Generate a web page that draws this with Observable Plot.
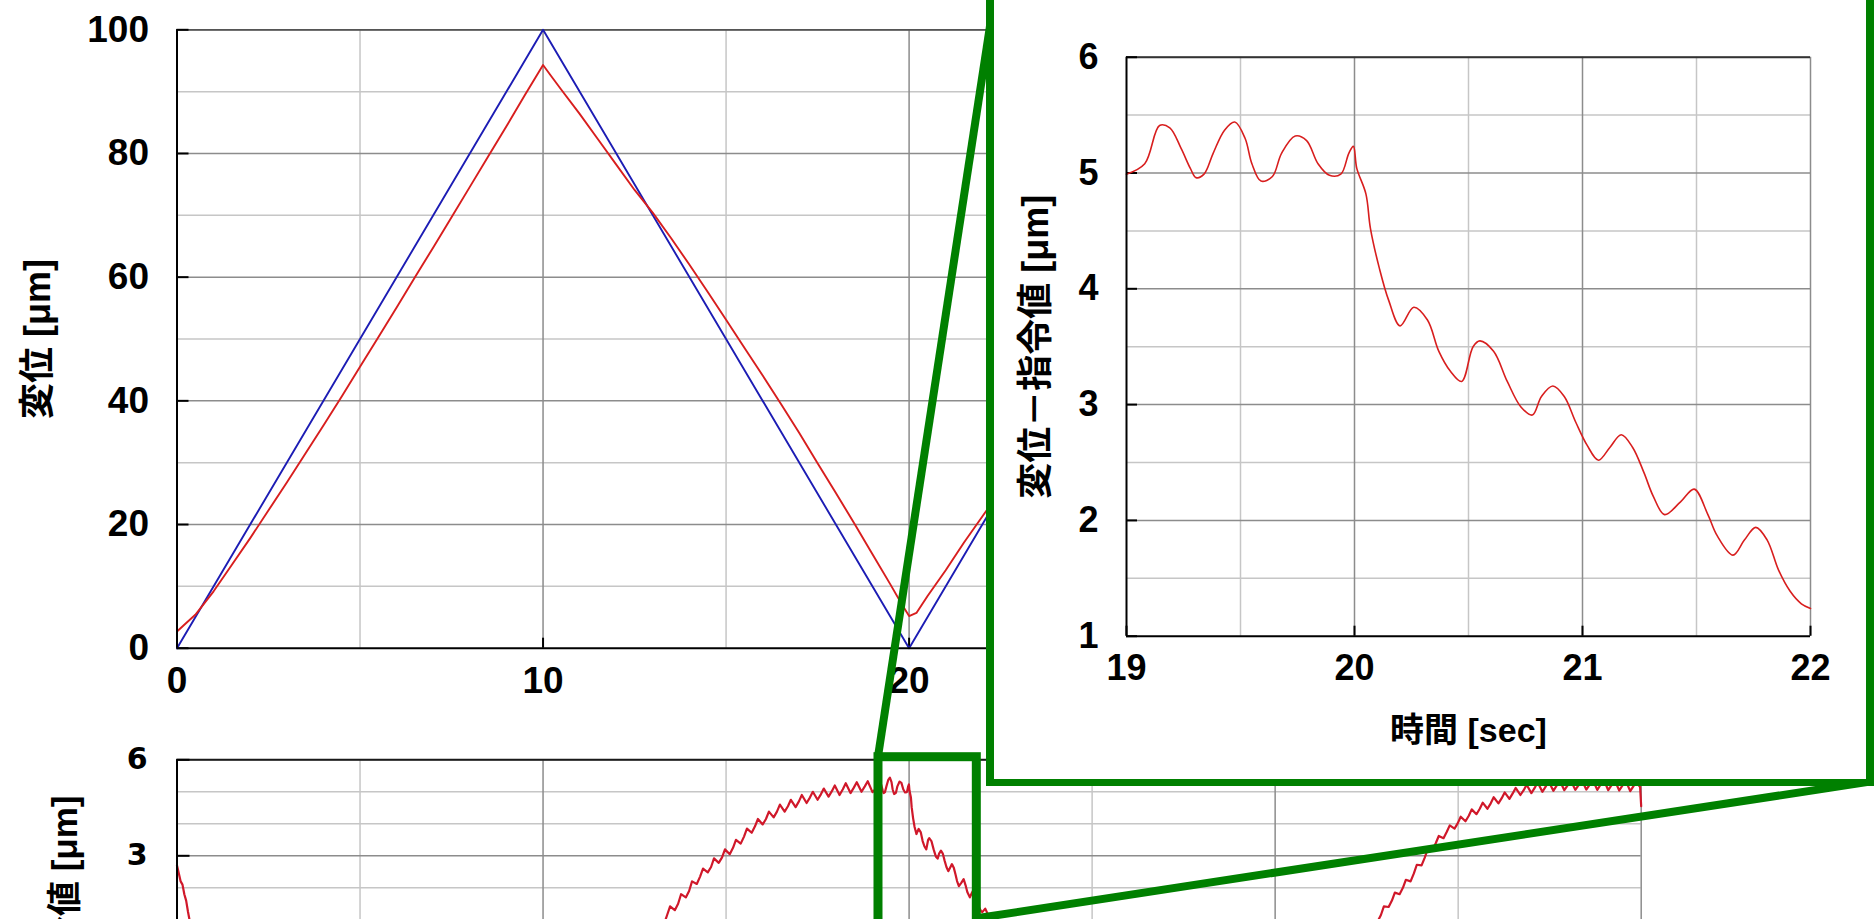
<!DOCTYPE html>
<html><head><meta charset="utf-8">
<script src="https://cdn.jsdelivr.net/npm/d3@7"></script>
<script src="https://cdn.jsdelivr.net/npm/@observablehq/plot@0.6"></script>
<style>
html,body{margin:0;padding:0;background:#fff;}
#wrap{position:relative;width:1874px;height:919px;overflow:hidden;background:#fff;}
</style></head>
<body><div id="wrap"></div>
<script>
// ---------------- data ----------------
// command (blue)
const cmdT = [0, 10, 20, 30, 40];
const cmdV = [0, 100, 0, 100, 0];
// measured displacement (red), top chart
const redT = [0,0.2,0.5,1,1.5,2,2.5,3,3.5,4,4.5,5,5.5,6,6.5,7,7.5,8,8.5,9,9.5,10,10.2,10.5,11,11.5,12,12.5,13,13.5,14,14.5,15,15.5,16,16.5,17,17.5,18,18.5,19,19.5,19.8,20,20.2,20.5,21,21.5,22,23,24,25,26,27,28,29,30,31,32,33,34,35,36,37,38,39,40];
const redV = [2.7,3.8,5.4,9.2,13.5,17.8,22.3,26.8,31.4,36.0,40.7,45.5,50.3,55.1,60.0,64.8,69.7,74.6,79.5,84.4,89.4,94.3,92.7,90.3,86.4,82.3,78.2,74.1,70.4,66.3,62.0,57.6,53.1,48.6,44.1,39.5,34.8,29.9,25.1,20.2,15.2,10.2,7.1,5.2,5.7,8.4,12.6,17.1,21.3,29.6,38.2,47.1,56.3,65.7,75.2,84.8,94.4,86.5,78.5,71.5,62.7,54.1,44.7,35.1,25.2,15.2,5.1];
// displacement - command (bottom chart and inset)
const diffT = [
  0,0.05,0.1,0.15,0.2,0.25,0.3,0.35,0.45,
  1,2,3,4,5,6,7,8,9,10,10.5,11,11.5,12,12.5,
  13.00,13.09,13.17, 13.30,13.39,13.47, 13.60,13.69,13.77, 13.90,13.99,14.07,
  14.20,14.29,14.37, 14.50,14.59,14.67, 14.80,14.89,14.97, 15.10,15.19,15.27,
  15.40,15.49,15.57, 15.70,15.79,15.87, 16.00,16.09,16.17, 16.30,16.39,16.47,
  16.60,16.69,16.77, 16.90,16.99,17.07, 17.20,17.29,17.37, 17.50,17.59,17.67,
  17.80,17.89,17.97, 18.10,18.19,18.27, 18.40,18.49,18.57, 18.70,18.79,18.87,
  19.0,19.08,19.145,19.19,19.24,19.28,19.305,19.34,19.38,19.43,19.475,19.52,19.55,19.59,19.64,19.68,19.74,19.79,19.84,19.89,19.94,19.975,19.995,
  20.01,20.05,20.07,20.11,20.15,20.2,20.26,20.32,20.37,20.42,20.47,20.52,20.55,20.61,20.67,20.73,20.78,20.82,20.87,20.92,20.97,
  21.02,21.07,21.12,21.17,21.22,21.27,21.31,21.36,21.43,21.49,21.55,21.59,21.66,21.71,21.76,21.81,21.86,21.91,21.96,22.0,
  22.08,22.16,22.25,22.35,22.45,23,24,25,26,27,28,29,30,30.5,31,31.5,32,32.3,
  32.5,32.59,32.67, 32.8,32.89,32.97, 33.1,33.19,33.27, 33.4,33.49,33.57,
  33.7,33.79,33.87, 34.0,34.09,34.17, 34.3,34.39,34.47, 34.6,34.69,34.77,
  34.9,34.99,35.07, 35.2,35.29,35.37, 35.5,35.59,35.67, 35.8,35.89,35.97,
  36.1,36.19,36.27, 36.4,36.49,36.57, 36.7,36.79,36.87, 37.0,37.09,37.17,
  37.3,37.39,37.47, 37.6,37.69,37.77, 37.9,37.99,38.07, 38.2,38.29,38.37,
  38.5,38.59,38.67, 38.8,38.89,38.97, 39.1,39.19,39.27, 39.4,39.49,39.57,
  39.7,39.79,39.87, 39.97,40.0
];
const diffV = [
  2.7,2.45,2.2,2.1,1.8,1.6,1.25,0.95,0.5,
  -0.8,-2.2,-3.2,-4.0,-4.5,-4.9,-5.2,-5.4,-5.6,-5.7,-4.7,-3.6,-2.7,-1.8,-0.9,
  0.2,0.5,0.85, 0.85,1.15,1.42, 1.3,1.5,1.8, 1.7,1.9,2.2,
  2.12,2.35,2.6, 2.48,2.65,2.92, 2.78,2.95,3.2, 3.05,3.25,3.5,
  3.38,3.6,3.85, 3.72,3.92,4.15, 3.98,4.15,4.38, 4.2,4.38,4.6,
  4.38,4.55,4.75, 4.52,4.7,4.9, 4.65,4.82,5.0, 4.75,4.92,5.1,
  4.85,5.02,5.2, 4.9,5.08,5.27, 4.96,5.13,5.3, 5.0,5.17,5.33,
  4.99,5.08,5.41,5.39,5.21,5.04,4.96,4.99,5.17,5.37,5.44,5.30,5.08,4.93,4.97,5.17,5.32,5.28,5.08,4.98,4.99,5.17,5.23,
  5.04,4.82,4.52,4.17,3.90,3.68,3.84,3.73,3.46,3.29,3.20,3.50,3.55,3.46,3.20,2.98,2.91,3.07,3.16,3.07,2.85,
  2.65,2.52,2.63,2.74,2.63,2.41,2.21,2.05,2.16,2.27,2.05,1.87,1.70,1.83,1.94,1.83,1.57,1.39,1.28,1.24,
  1.35,1.15,0.85,0.8,0.6,-0.4,-1.8,-2.9,-3.7,-4.3,-4.8,-5.2,-5.6,-4.6,-3.5,-2.5,-1.5,-0.5,
  0.25,0.5,0.8, 0.95,1.15,1.42, 1.4,1.6,1.85, 1.8,2.0,2.25,
  2.2,2.45,2.72, 2.7,2.95,3.22, 3.2,3.4,3.62, 3.55,3.75,3.95,
  3.85,4.02,4.22, 4.08,4.25,4.45, 4.3,4.47,4.66, 4.47,4.64,4.83,
  4.64,4.8,4.98, 4.78,4.95,5.12, 4.9,5.05,5.22, 4.96,5.12,5.3,
  5.0,5.16,5.33, 5.03,5.19,5.36, 5.05,5.2,5.37, 5.06,5.21,5.38,
  5.07,5.22,5.39, 5.06,5.22,5.4, 5.05,5.21,5.38, 5.04,5.2,5.37,
  5.02,5.18,5.3, 5.15,4.55
];
// ticks / grid
const topXTicks = [0, 10, 20, 30, 40];
const topXLabels = [0, 10, 20];           // 30 and 40 are covered by the inset
const topYTicks = [0, 20, 40, 60, 80, 100];
const topXMinor = [5, 15, 25, 35];
const topYMinor = [10, 30, 50, 70, 90];
const botYTicks = [6, 3, 0, -3, -6];
const botYLabels = [6, 3];               // lower labels fall outside the picture
const botYMinor = [5, 4, 2, 1, -1, -2, -4, -5];
const insXTicks = [19, 20, 21, 22];
const insYTicks = [1, 2, 3, 4, 5, 6];
const insXMinor = [19.5, 20.5, 21.5];
const insYMinor = [1.5, 2.5, 3.5, 4.5, 5.5];
const zoomRange = [19, 22];
// labels
const topYLabel = "変位 [μm]";
const diffLabel = "変位－指令値 [μm]";
const timeLabel = "時間 [sec]";

// ---------------- styles ----------------
const FONT = '"Liberation Sans", Arial, "Noto Sans CJK JP", sans-serif';
const RED = "#d81e1e", BLUE = "#1c1cb4", GREEN = "#008000";
const GMAJ = "#8c8c8c", GMIN = "#c6c6c6";

const cmd = cmdT.map((t, i) => ({t, v: cmdV[i]}));
const red = redT.map((t, i) => ({t, v: redV[i]}));
const diff = diffT.map((t, i) => ({t, v: diffV[i]}));

const wrap = document.getElementById("wrap");
function place(el, left, top) {
  el.style.position = "absolute";
  el.style.left = left + "px";
  el.style.top = top + "px";
  el.style.maxWidth = "none";
  wrap.appendChild(el);
}
const baseStyle = {fontFamily: FONT, fontWeight: "bold", background: "transparent", overflow: "visible", color: "black"};

// ---------------- top chart ----------------
const T = {w: 1700, h: 708, ml: 176.5, mr: 1700 - 1640.7, mt: 29.3, mb: 708 - 647.7};
const tpw = T.w - T.ml - T.mr, tph = T.h - T.mt - T.mb;
const topPlot = Plot.plot({
  width: T.w, height: T.h, marginLeft: T.ml, marginRight: T.mr, marginTop: T.mt, marginBottom: T.mb,
  x: {domain: [0, 40]}, y: {domain: [0, 100]},
  style: baseStyle,
  marks: [
    Plot.ruleX(topXMinor, {stroke: GMIN, strokeWidth: 1.5}),
    Plot.ruleY(topYMinor, {stroke: GMIN, strokeWidth: 1.5}),
    Plot.ruleX(topXTicks.slice(1), {stroke: GMAJ, strokeWidth: 1.5}),
    Plot.ruleY(topYTicks.slice(1), {stroke: GMAJ, strokeWidth: 1.5}),
    Plot.ruleY([100], {stroke: "#555", strokeWidth: 1.8}),
    Plot.ruleY(topYTicks, {stroke: "black", strokeWidth: 2, insetRight: tpw - 12}),
    Plot.ruleX(topXTicks, {stroke: "black", strokeWidth: 2, insetTop: tph - 10}),
    Plot.line(cmd, {x: "t", y: "v", stroke: BLUE, strokeWidth: 1.9}),
    Plot.line(red, {x: "t", y: "v", stroke: RED, strokeWidth: 1.9}),
    Plot.ruleX([0], {stroke: "black", strokeWidth: 2}),
    Plot.ruleY([0], {stroke: "black", strokeWidth: 2}),
    Plot.axisX({ticks: topXLabels, tickSize: 0, tickPadding: 19, fontSize: 37, fontWeight: "bold", fontFamily: FONT, label: null, tickFormat: d => String(d)}),
    Plot.axisY({ticks: topYTicks, tickSize: 0, tickPadding: 28, fontSize: 37, fontWeight: "bold", fontFamily: FONT, label: null, tickFormat: d => String(d)}),
    Plot.text([topYLabel], {text: d => d, frameAnchor: "left", dx: -138.5, rotate: -90, textAnchor: "middle", lineAnchor: "middle", fontSize: 36, fontWeight: "bold", fontFamily: FONT, fill: "black"})
  ]
});
place(topPlot, 0, 0);

// ---------------- bottom chart ----------------
const BOT_TOP = 700;
const B = {w: 1700, ml: 176.5, mr: 1700 - 1640.7, mt: 59.3, plotH: 384, mb: 60};
B.h = B.mt + B.plotH + B.mb;
const bpw = B.w - B.ml - B.mr;
const botPlot = Plot.plot({
  width: B.w, height: B.h, marginLeft: B.ml, marginRight: B.mr, marginTop: B.mt, marginBottom: B.mb,
  x: {domain: [0, 40], axis: null}, y: {domain: [-6, 6], axis: null},
  style: baseStyle,
  marks: [
    Plot.ruleX(topXMinor, {stroke: GMIN, strokeWidth: 1.5}),
    Plot.ruleY(botYMinor, {stroke: GMIN, strokeWidth: 1.5}),
    Plot.ruleX(topXTicks.slice(1), {stroke: GMAJ, strokeWidth: 1.5}),
    Plot.ruleY(botYTicks, {stroke: GMAJ, strokeWidth: 1.5}),
    Plot.ruleY([6], {stroke: "#1a1a1a", strokeWidth: 2}),
    Plot.ruleY(botYTicks, {stroke: "black", strokeWidth: 2, insetRight: bpw - 13}),
    Plot.line(diff, {x: "t", y: "v", stroke: "#d0182a", strokeWidth: 2.2}),
    Plot.ruleX([0], {stroke: "black", strokeWidth: 2}),
    Plot.axisY({ticks: botYLabels, tickSize: 0, tickPadding: 29.5, fontSize: 30, fontWeight: "bold", fontFamily: '"DejaVu Sans", sans-serif', label: null, tickFormat: d => String(d)}),
    Plot.text([diffLabel], {text: d => d, frameAnchor: "top-left", dx: 65.5 - B.ml, dy: 795 - (BOT_TOP + B.mt), rotate: -90, textAnchor: "end", lineAnchor: "middle", fontSize: 35, fontWeight: "bold", fontFamily: FONT, fill: "black"})
  ]
});
place(botPlot, 0, BOT_TOP);

// ---------------- zoom connector overlay ----------------
const bx = botPlot.scale("x"), by = botPlot.scale("y");
const INSET = {left: 986, right: 1874, bottom: 786, border: 8, borderBottom: 7};
const rx1 = bx.apply(zoomRange[0]) + 6, rx2 = bx.apply(zoomRange[1]) - 5.5;
const ry1 = BOT_TOP + by.apply(6) - 2.6, ry2 = BOT_TOP + by.apply(-1);
const ov = d3.create("svg").attr("width", 1874).attr("height", 919);
ov.append("rect").attr("x", rx1).attr("y", ry1).attr("width", rx2 - rx1).attr("height", ry2 - ry1)
  .attr("fill", "none").attr("stroke", GREEN).attr("stroke-width", 9);
// line 1: rect top-left -> inset top-left
const p1 = [rx1, ry1], q1 = [INSET.left + INSET.border, 0];
const k1 = (q1[0] - p1[0]) / (q1[1] - p1[1]);
ov.append("line").attr("x1", p1[0]).attr("y1", p1[1]).attr("x2", q1[0] + k1 * (-30)).attr("y2", -30)
  .attr("stroke", GREEN).attr("stroke-width", 8);
// line 2: rect bottom-right -> inset bottom-right
const p2 = [rx2, BOT_TOP + by.apply(1) - 1], q2 = [INSET.right, INSET.bottom - 5];
ov.append("line").attr("x1", p2[0]).attr("y1", p2[1]).attr("x2", q2[0] + 30).attr("y2", q2[1] + 30 * (q2[1] - p2[1]) / (q2[0] - p2[0]))
  .attr("stroke", GREEN).attr("stroke-width", 8);
place(ov.node(), 0, 0);

// ---------------- inset box ----------------
const box = document.createElement("div");
Object.assign(box.style, {
  boxSizing: "border-box", width: (INSET.right - INSET.left) + "px", height: (INSET.bottom + 30) + "px",
  border: INSET.border + "px solid " + GREEN, borderBottomWidth: INSET.borderBottom + "px", background: "#fff"
});
place(box, INSET.left, -30);

const I = {w: 872, h: 779, ml: 132, mr: 56, mt: 56.7, mb: 779 - 635.7};
const ipw = I.w - I.ml - I.mr, iph = I.h - I.mt - I.mb;
const insetData = diff.filter(d => d.t >= zoomRange[0] && d.t <= zoomRange[1]);
const insetPlot = Plot.plot({
  width: I.w, height: I.h, marginLeft: I.ml, marginRight: I.mr, marginTop: I.mt, marginBottom: I.mb,
  x: {domain: zoomRange}, y: {domain: [1, 6]},
  style: baseStyle,
  marks: [
    Plot.ruleX(insXMinor, {stroke: GMIN, strokeWidth: 1.5}),
    Plot.ruleY(insYMinor, {stroke: GMIN, strokeWidth: 1.5}),
    Plot.ruleX(insXTicks.slice(1), {stroke: GMAJ, strokeWidth: 1.5}),
    Plot.ruleY(insYTicks.slice(1), {stroke: GMAJ, strokeWidth: 1.5}),
    Plot.ruleY([6], {stroke: "#333", strokeWidth: 2}),
    Plot.ruleY(insYTicks, {stroke: "black", strokeWidth: 2, insetRight: ipw - 11}),
    Plot.ruleX(insXTicks, {stroke: "black", strokeWidth: 2, insetTop: iph - 10}),
    Plot.line(insetData, {x: "t", y: "v", stroke: RED, strokeWidth: 1.6, curve: "catmull-rom"}),
    Plot.ruleX([zoomRange[0]], {stroke: "black", strokeWidth: 2}),
    Plot.ruleY([1], {stroke: "black", strokeWidth: 2}),
    Plot.axisX({ticks: insXTicks, tickSize: 0, tickPadding: 18.7, fontSize: 36, fontWeight: "bold", fontFamily: FONT, label: null, tickFormat: d => String(d)}),
    Plot.axisY({ticks: insYTicks, tickSize: 0, tickPadding: 28, fontSize: 36, fontWeight: "bold", fontFamily: FONT, label: null, tickFormat: d => String(d)}),
    Plot.text([diffLabel], {text: d => d, frameAnchor: "left", dx: 1035.5 - (INSET.left + INSET.border) - I.ml, rotate: -90, textAnchor: "middle", lineAnchor: "middle", fontSize: 36, fontWeight: "bold", fontFamily: FONT, fill: "black"}),
    Plot.text([timeLabel], {text: d => d, frameAnchor: "bottom", dy: 95, textAnchor: "middle", lineAnchor: "middle", fontSize: 34, fontWeight: "bold", fontFamily: FONT, fill: "black"})
  ]
});
place(insetPlot, INSET.left + INSET.border, 0);
</script>
</body></html>
